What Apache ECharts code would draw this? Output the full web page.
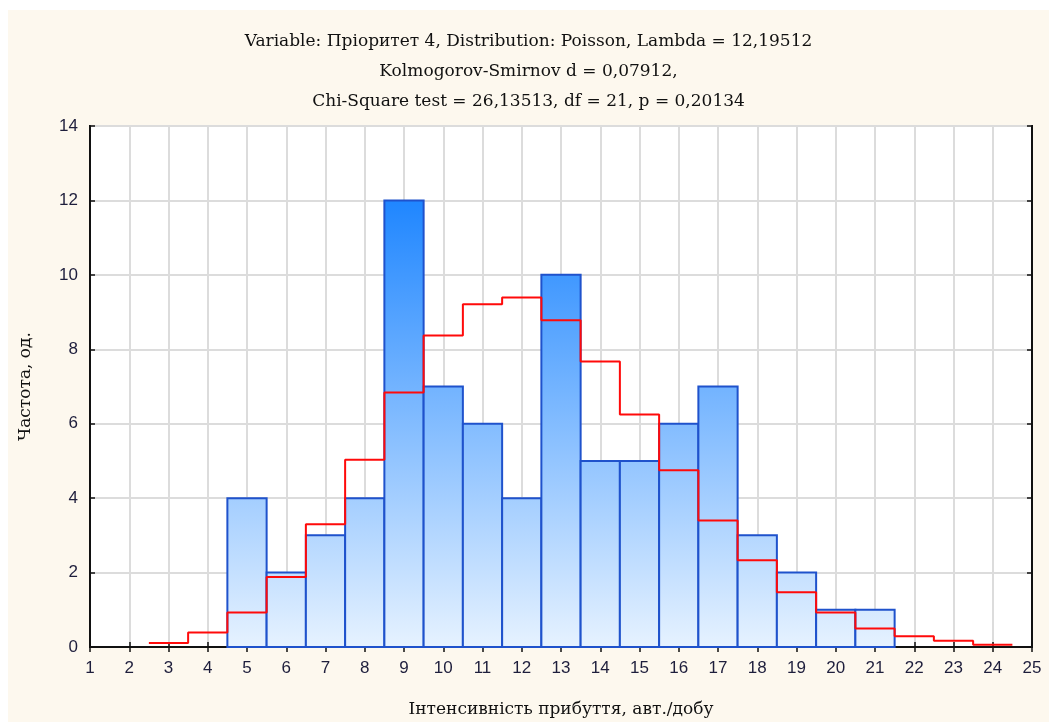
<!DOCTYPE html>
<html>
<head>
<meta charset="utf-8">
<script src="https://cdn.jsdelivr.net/npm/echarts@6/dist/echarts.min.js"></script>
<style>
  html, body { margin: 0; padding: 0; background: #fff; }
  #chart { position: absolute; left: 8px; top: 10px; width: 1041px; height: 712px; background: #fdf8ee; }
</style>
</head>
<body>
<div id="chart"></div>
<script>
// спостережені частоти (гістограма)
const binCenters = [5, 6, 7, 8, 9, 10, 11, 12, 13, 14, 15, 16, 17, 18, 19, 20, 21]
const observed = [4, 2, 3, 4, 12, 7, 6, 4, 10, 5, 5, 6, 7, 3, 2, 1, 1]

// очікувані частоти Пуассона (червона ступінчаста лінія)
const expectedX = [3, 4, 5, 6, 7, 8, 9, 10, 11, 12, 13, 14, 15, 16, 17, 18, 19, 20, 21, 22, 23, 24]
const expected = [0.11, 0.39, 0.93, 1.88, 3.30, 5.03, 6.84, 8.37, 9.21, 9.39, 8.78, 7.67, 6.25, 4.75, 3.40, 2.33, 1.47, 0.93, 0.50, 0.29, 0.17, 0.06]

const titleLines = [
  'Variable: Пріоритет 4, Distribution: Poisson, Lambda = 12,19512',
  'Kolmogorov-Smirnov d = 0,07912,',
  'Chi-Square test = 26,13513, df = 21, p = 0,20134'
]
const xName = 'Інтенсивність прибуття, авт./добу'
const yName = 'Частота, од.'

const chart = echarts.init(document.getElementById('chart'))

// ступінчаста лінія: кожне значення тягнеться від k-0.5 до k+0.5
const stepData = []
expectedX.forEach((k, i) => {
  stepData.push([k - 0.5, expected[i]])
  stepData.push([k + 0.5, expected[i]])
})

const barFill = new echarts.graphic.LinearGradient(0, 190, 0, 637, [
  { offset: 0, color: '#1f86ff' },
  { offset: 1, color: '#e6f2ff' }
], true)

const labelColor = '#1e1e3c'
const serif = '"DejaVu Serif", "Liberation Serif", serif'

const option = {
  animation: false,
  grid: {
    left: 82, right: 17, top: 116, bottom: 75,
    outerBoundsMode: 'none',
    show: true, backgroundColor: '#ffffff', borderColor: '#111', borderWidth: 2
  },
  title: {
    text: titleLines.join('\n'),
    left: 'center',
    top: 12,
    textStyle: { fontFamily: serif, fontSize: 17, fontWeight: 'normal', color: '#111', lineHeight: 30 }
  },
  xAxis: [
    {
      type: 'value', min: 1, max: 25, interval: 1,
      name: xName, nameLocation: 'middle', nameGap: 54,
      nameTextStyle: { fontFamily: serif, fontSize: 17, color: '#111' },
      axisLine: { show: true, lineStyle: { color: '#111', width: 2 } },
      axisTick: { show: true, inside: true, length: 5, lineStyle: { color: '#111', width: 1.5 } },
      axisLabel: { fontFamily: 'Liberation Sans, Arial, sans-serif', fontSize: 17, color: labelColor, margin: 13 },
      splitLine: { show: true, lineStyle: { color: '#dcdcdc', width: 2 } }
    },
    {
      type: 'value', min: 1, max: 25, interval: 1, position: 'top',
      axisLine: { show: true, lineStyle: { color: '#111', width: 2 } },
      axisTick: { show: true, inside: true, length: 5, lineStyle: { color: '#111', width: 1.5 } },
      axisLabel: { show: false },
      splitLine: { show: false }
    }
  ],
  yAxis: [
    {
      type: 'value', min: 0, max: 14, interval: 2,
      name: yName, nameLocation: 'middle', nameGap: 56, nameRotate: 90,
      nameTextStyle: { fontFamily: serif, fontSize: 17, color: '#111' },
      axisLine: { show: true, lineStyle: { color: '#111', width: 2 } },
      axisTick: { show: true, inside: true, length: 5, lineStyle: { color: '#111', width: 1.5 } },
      axisLabel: { fontFamily: 'Liberation Sans, Arial, sans-serif', fontSize: 17, color: labelColor, margin: 12 },
      splitLine: { show: true, lineStyle: { color: '#dcdcdc', width: 2 } }
    },
    {
      type: 'value', min: 0, max: 14, interval: 2, position: 'right',
      axisLine: { show: true, lineStyle: { color: '#111', width: 2 } },
      axisTick: { show: true, inside: true, length: 5, lineStyle: { color: '#111', width: 1.5 } },
      axisLabel: { show: false },
      splitLine: { show: false }
    }
  ],
  series: [
    {
      type: 'custom',
      data: binCenters.map((x, i) => [x, observed[i]]),
      renderItem: (params, api) => {
        const x = api.value(0)
        const v = api.value(1)
        const p0 = api.coord([x - 0.5, v])
        const p1 = api.coord([x + 0.5, 0])
        return {
          type: 'rect',
          shape: { x: p0[0], y: p0[1], width: p1[0] - p0[0], height: p1[1] - p0[1] },
          style: { fill: barFill, stroke: '#1f52cc', lineWidth: 2 }
        }
      },
      z: 2
    },
    {
      type: 'line',
      data: stepData,
      showSymbol: false,
      lineStyle: { color: '#ff0a0a', width: 2 },
      z: 3
    }
  ]
}

chart.setOption(option)
</script>
</body>
</html>
